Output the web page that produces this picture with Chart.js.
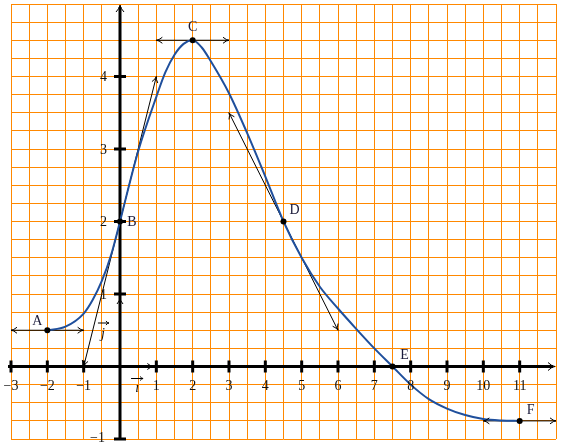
<!DOCTYPE html>
<html><head><meta charset="utf-8">
<script src="https://cdn.jsdelivr.net/npm/chart.js@4/dist/chart.umd.min.js"></script>
<style>html,body{margin:0;padding:0;background:#fff}canvas{display:block}</style>
</head><body>
<canvas id="c" width="562" height="448"></canvas>
<script>
// Curve values
const curveX = [-2, -1.5, -1, -0.75, -0.5, -0.25, 0, 0.25, 0.5, 1, 1.25, 1.5, 1.75, 2, 2.25, 2.5, 3, 3.5, 4, 4.5, 5, 5.5, 6, 6.5, 7, 7.5, 8, 8.5, 9, 9.5, 10, 10.5, 11];
const curveY = [0.5, 0.55, 0.73, 0.92, 1.18, 1.53, 2, 2.5, 2.97, 3.72, 4.06, 4.3, 4.45, 4.5, 4.4, 4.21, 3.77, 3.22, 2.62, 2.0, 1.5, 1.1, 0.8, 0.52, 0.25, 0, -0.25, -0.45, -0.58, -0.67, -0.725, -0.745, -0.75];

// Named points
const pointNames = ['A', 'B', 'C', 'D', 'E', 'F'];
const pointX = [-2, 0, 2, 4.5, 7.5, 11];
const pointY = [0.5, 2, 4.5, 2, 0, -0.75];

// Tangent segments
const tangentX1 = [-3, -1, 1, 3, 10];
const tangentY1 = [0.5, 0, 4.5, 3.5, -0.75];
const tangentX2 = [-1, 1, 3, 6, 12];
const tangentY2 = [0.5, 4, 4.5, 0.5, -0.75];

// Axis tick labels
const xTickLabels = [-3, -2, -1, 1, 2, 3, 4, 5, 6, 7, 8, 9, 10, 11];
const yTickLabels = [1, 2, 3, 4];
const yBottomLabel = -1;

const BLUE = '#1f4f9c';
const ORANGE = '#ff8800';
const SERIF = '"Liberation Serif", "DejaVu Serif", serif';

function arrowHead(ctx, x, y, angle, len, half) {
  len = len || 6; half = half || 3;
  const c = Math.cos(angle), s = Math.sin(angle);
  ctx.beginPath();
  ctx.moveTo(x - len * c + half * s, y - len * s - half * c);
  ctx.quadraticCurveTo(x - len * 0.4 * c, y - len * 0.4 * s, x, y);
  ctx.quadraticCurveTo(x - len * 0.4 * c, y - len * 0.4 * s, x - len * c - half * s, y - len * s + half * c);
  ctx.stroke();
}
function minus(v) { return v < 0 ? '\u2212' + Math.abs(v) : String(v); }

const decor = {
  id: 'decor',
  beforeDatasetsDraw(chart) {
    const { ctx, scales: { x, y } } = chart;
    const X = v => x.getPixelForValue(v), Y = v => y.getPixelForValue(v);
    ctx.save();
    ctx.strokeStyle = '#000';
    ctx.lineWidth = 3;
    ctx.lineCap = 'butt';
    ctx.beginPath(); ctx.moveTo(X(-3) - 3, Y(0)); ctx.lineTo(X(12) - 3, Y(0)); ctx.stroke();
    ctx.beginPath(); ctx.moveTo(X(0), Y(-1)); ctx.lineTo(X(0), Y(5) + 3); ctx.stroke();
    xTickLabels.forEach(v => {
      ctx.beginPath(); ctx.moveTo(X(v), Y(0) - 6); ctx.lineTo(X(v), Y(0) + 6); ctx.stroke();
    });
    yTickLabels.concat([yBottomLabel]).forEach(v => {
      ctx.beginPath(); ctx.moveTo(X(0) - 6, Y(v)); ctx.lineTo(X(0) + 6, Y(v)); ctx.stroke();
    });
    ctx.lineWidth = 1;
    arrowHead(ctx, X(12) - 1, Y(0), 0, 7, 4);
    arrowHead(ctx, X(0), Y(5) + 1, -Math.PI / 2, 7, 4);
    arrowHead(ctx, X(1) - 3, Y(0), 0, 6, 3);
    arrowHead(ctx, X(0), Y(1) + 4, -Math.PI / 2, 6, 3);
    ctx.restore();
  },
  afterDatasetsDraw(chart) {
    const { ctx, scales: { x, y } } = chart;
    const X = v => x.getPixelForValue(v), Y = v => y.getPixelForValue(v);
    ctx.save();
    ctx.strokeStyle = '#000';
    ctx.lineWidth = 1;
    tangentX1.forEach((v, i) => {
      const x1 = X(v), y1 = Y(tangentY1[i]), x2 = X(tangentX2[i]), y2 = Y(tangentY2[i]);
      const a = Math.atan2(y2 - y1, x2 - x1);
      arrowHead(ctx, x2, y2, a, 6, 3);
      arrowHead(ctx, x1, y1, a + Math.PI, 6, 3);
    });
    ctx.fillStyle = '#111';
    ctx.font = '14px ' + SERIF;
    ctx.textAlign = 'center';
    ctx.textBaseline = 'middle';
    xTickLabels.forEach(v => ctx.fillText(minus(v), X(v), Y(0) + 20));
    ctx.textAlign = 'right';
    yTickLabels.forEach(v => ctx.fillText(minus(v), X(0) - 13, Y(v) + 1));
    ctx.fillText(minus(yBottomLabel), X(0) - 15, Y(yBottomLabel) - 1);
    ctx.font = 'italic 14px ' + SERIF;
    ctx.textAlign = 'center';
    ctx.fillText('\u0131', X(0.47), Y(0) + 22);
    ctx.fillText('j', X(-0.47), Y(0.45));
    ctx.beginPath();
    ctx.moveTo(X(0.47) - 6, Y(0) + 12); ctx.lineTo(X(0.47) + 6, Y(0) + 12); ctx.stroke();
    arrowHead(ctx, X(0.47) + 6, Y(0) + 12, 0, 3, 2);
    ctx.beginPath();
    ctx.moveTo(X(-0.47) - 5, Y(0.6)); ctx.lineTo(X(-0.47) + 6, Y(0.6)); ctx.stroke();
    arrowHead(ctx, X(-0.47) + 6, Y(0.6), 0, 3, 2);
    ctx.font = '14px ' + SERIF;
    ctx.fillStyle = '#1a1a3a';
    const offs = [[-10, -9], [12, 1], [0, -13], [11, -11], [12, -11], [11, -11]];
    pointNames.forEach((n, i) => ctx.fillText(n, X(pointX[i]) + offs[i][0], Y(pointY[i]) + offs[i][1]));
    ctx.restore();
  }
};

const datasets = [
  {
    data: pointX.map((v, i) => ({ x: v, y: pointY[i] })),
    showLine: false, pointRadius: 3, pointBackgroundColor: '#000', pointBorderColor: '#000', borderWidth: 0
  },
  {
    data: curveX.map((v, i) => ({ x: v, y: curveY[i] })),
    showLine: true, borderColor: BLUE, borderWidth: 2, pointRadius: 0,
    cubicInterpolationMode: 'monotone', fill: false
  }
].concat(tangentX1.map((v, i) => ({
  data: [{ x: v, y: tangentY1[i] }, { x: tangentX2[i], y: tangentY2[i] }],
  showLine: true, borderColor: '#000', borderWidth: 1, pointRadius: 0, fill: false
})));

new Chart(document.getElementById('c'), {
  type: 'line',
  data: { datasets },
  options: {
    responsive: false,
    animation: false,
    layout: { padding: { left: 11, right: 6, top: 3, bottom: 9 } },
    plugins: { legend: { display: false }, tooltip: { enabled: false } },
    scales: {
      x: {
        type: 'linear', min: -3, max: 12,
        ticks: { stepSize: 0.5, display: false, autoSkip: false, maxTicksLimit: 100 },
        grid: { color: ORANGE, lineWidth: 1, drawTicks: false },
        border: { display: false }
      },
      y: {
        type: 'linear', min: -1, max: 5,
        ticks: { stepSize: 0.25, display: false, autoSkip: false, maxTicksLimit: 100 },
        grid: { color: ORANGE, lineWidth: 1, drawTicks: false },
        border: { display: false }
      }
    }
  },
  plugins: [decor]
});
</script>
</body></html>
